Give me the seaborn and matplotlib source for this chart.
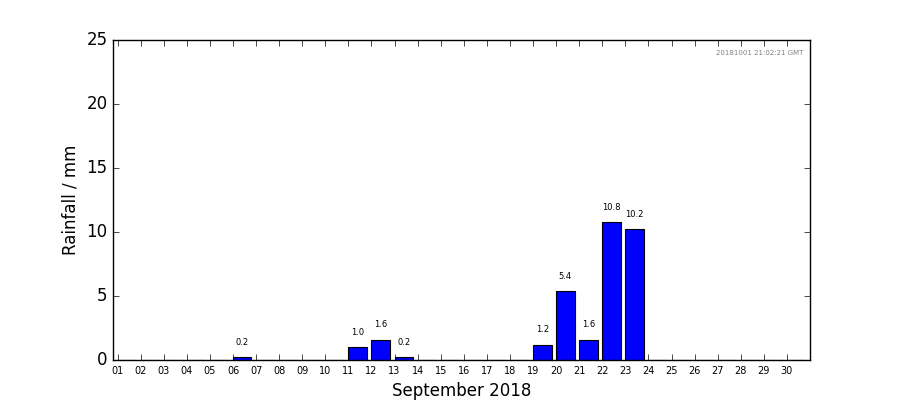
import matplotlib
matplotlib.use("Agg")
import matplotlib.pyplot as plt
import seaborn as sns
import pandas as pd

days = [f"{d:02d}" for d in range(1, 31)]
rain = [0, 0, 0, 0, 0, 0.2, 0, 0, 0, 0, 1.0, 1.6, 0.2, 0, 0, 0, 0, 0,
        1.2, 5.4, 1.6, 10.8, 10.2, 0, 0, 0, 0, 0, 0, 0]
stamp = "20181001 21:02:21 GMT"

plt.style.use("classic")
df = pd.DataFrame({"day": days, "rain": rain})

fig = plt.figure(figsize=(9, 4), dpi=100, facecolor="white")
ax = fig.add_axes([113 / 900, 40 / 400, 697 / 900, 320 / 400])
sns.barplot(data=df, x="day", y="rain", color="#0000ff", saturation=1,
            width=0.8, edgecolor="black", linewidth=0.8, ax=ax)

for i, v in enumerate(rain):
    if v > 0:
        ax.text(i, v + 0.8, f"{v:.1f}", ha="center", va="bottom", fontsize=6)

ax.set_xticks([i - 0.4 for i in range(len(days))])
ax.set_xticklabels(days, fontsize=7)
ax.set_xlim(-0.6, 29.6)
ax.set_ylim(0, 25)
ax.set_xlabel("September 2018", fontsize=12)
ax.set_ylabel("Rainfall / mm", fontsize=12)
ax.tick_params(axis="y", labelsize=12)
ax.text(0.99, 0.97, stamp, transform=ax.transAxes, ha="right", va="top",
        fontsize=5, color="grey")
fig.savefig("out.png", dpi=100)
